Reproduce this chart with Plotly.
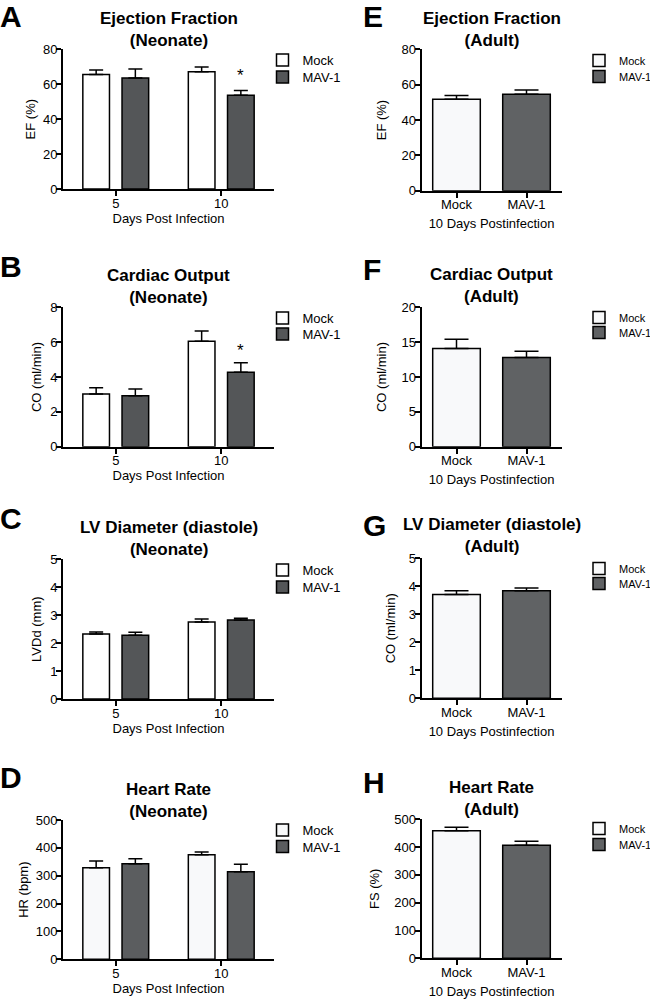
import plotly.graph_objects as go

# ---------------- data ----------------
days = ["5", "10"]
groups = ["Mock", "MAV-1"]

# Neonate panels (A-D): values at day 5 and day 10
ef_neo_mock = [65.5, 67.2]
ef_neo_mock_err = [2.6, 2.7]
ef_neo_mav = [63.6, 53.7]
ef_neo_mav_err = [5.1, 2.7]

co_neo_mock = [3.02, 6.05]
co_neo_mock_err = [0.37, 0.59]
co_neo_mav = [2.93, 4.27]
co_neo_mav_err = [0.38, 0.55]

lvdd_neo_mock = [2.33, 2.76]
lvdd_neo_mock_err = [0.07, 0.10]
lvdd_neo_mav = [2.28, 2.83]
lvdd_neo_mav_err = [0.11, 0.06]

hr_neo_mock = [329, 375]
hr_neo_mock_err = [24, 10]
hr_neo_mav = [343, 314]
hr_neo_mav_err = [18, 27]

# Adult panels (E-H): [Mock, MAV-1]
ef_adult = [51.7, 54.5]
ef_adult_err = [2.1, 2.5]
co_adult = [14.1, 12.8]
co_adult_err = [1.3, 0.9]
lvdd_adult = [3.71, 3.84]
lvdd_adult_err = [0.13, 0.10]
hr_adult = [459, 406.5]
hr_adult_err = [12, 14.5]

# significance stars (neonate, MAV-1 at day 10)
star_ef_y = 66.9
star_co_y = 5.69

# ---------------- layout helpers ----------------
W, H = 650, 1001
FONT = "Liberation Sans, Arial, Helvetica, sans-serif"


def px_x(p):
    return p / W


def px_y(p):
    return 1 - p / H


fig = go.Figure()

left_x = [63, 274]
right_x = [421.5, 561.5]

panels = [
    dict(letter="A", i=1, side="L", yp=(49.3, 189.0), ymax=80, dtick=20,
         title="Ejection Fraction<br>(Neonate)", ytitle="EF (%)", ysd=4,
         mock=ef_neo_mock, mock_err=ef_neo_mock_err, mav=ef_neo_mav, mav_err=ef_neo_mav_err,
         title_y=30, letter_y=17, leg_y=(60, 77), star=star_ef_y,
         mock_c="#ffffff", mav_c="#545658"),
    dict(letter="B", i=2, side="L", yp=(307.3, 446.7), ymax=8, dtick=2,
         title="Cardiac Output<br>(Neonate)", ytitle="CO (ml/min)", ysd=6,
         mock=co_neo_mock, mock_err=co_neo_mock_err, mav=co_neo_mav, mav_err=co_neo_mav_err,
         title_y=286, letter_y=266, leg_y=(318, 334), star=star_co_y,
         mock_c="#ffffff", mav_c="#545658"),
    dict(letter="C", i=3, side="L", yp=(559.3, 699.0), ymax=5, dtick=1,
         title="LV Diameter (diastole)<br>(Neonate)", ytitle="LVDd (mm)", ysd=6,
         mock=lvdd_neo_mock, mock_err=lvdd_neo_mock_err, mav=lvdd_neo_mav, mav_err=lvdd_neo_mav_err,
         title_y=538, letter_y=518, leg_y=(570, 587), star=None,
         mock_c="#ffffff", mav_c="#545658"),
    dict(letter="D", i=4, side="L", yp=(820.0, 959.3), ymax=500, dtick=100,
         title="Heart Rate<br>(Neonate)", ytitle="HR (bpm)", ysd=4,
         mock=hr_neo_mock, mock_err=hr_neo_mock_err, mav=hr_neo_mav, mav_err=hr_neo_mav_err,
         title_y=800, letter_y=777, leg_y=(830, 846.5), star=None,
         mock_c="#f8f9fa", mav_c="#5b5d5f"),
    dict(letter="E", i=5, side="R", yp=(49.3, 190.7), ymax=80, dtick=20,
         title="Ejection Fraction<br>(Adult)", ytitle="EF (%)", ysd=12,
         vals=ef_adult, errs=ef_adult_err,
         title_y=29, letter_y=17, leg_y=(60, 76),
         mock_c="#f8f9fa", mav_c="#606264"),
    dict(letter="F", i=6, side="R", yp=(307.3, 446.7), ymax=20, dtick=5,
         title="Cardiac Output<br>(Adult)", ytitle="CO (ml/min)", ysd=12,
         vals=co_adult, errs=co_adult_err,
         title_y=285, letter_y=270, leg_y=(317, 332),
         mock_c="#f8f9fa", mav_c="#606264"),
    dict(letter="G", i=7, side="R", yp=(558.3, 698.3), ymax=5, dtick=1,
         title="LV Diameter (diastole)<br>(Adult)", ytitle="CO (ml/min)", ysd=10,
         vals=lvdd_adult, errs=lvdd_adult_err,
         title_y=535, letter_y=525, leg_y=(568, 583),
         mock_c="#f8f9fa", mav_c="#606264"),
    dict(letter="H", i=8, side="R", yp=(819.3, 958.3), ymax=500, dtick=100,
         title="Heart Rate<br>(Adult)", ytitle="FS (%)", ysd=12,
         vals=hr_adult, errs=hr_adult_err,
         title_y=798, letter_y=782, leg_y=(828, 844),
         mock_c="#f8f9fa", mav_c="#606264"),
]

annotations = []
layout_axes = {}

for p in panels:
    i = p["i"]
    xa = "x" if i == 1 else f"x{i}"
    ya = "y" if i == 1 else f"y{i}"
    lg_names = [("legend" if (2 * i - 1) == 1 else f"legend{2 * i - 1}"), f"legend{2 * i}"]
    xdom = left_x if p["side"] == "L" else right_x
    ydom = [px_y(p["yp"][1]), px_y(p["yp"][0])]

    if p["side"] == "L":
        capw = 7
        fig.add_trace(go.Bar(
            x=days, y=p["mock"], name=groups[0], xaxis=xa, yaxis=ya, legend=lg_names[0],
            marker=dict(color=p["mock_c"], line=dict(color="black", width=1.5)),
            error_y=dict(type="data", array=p["mock_err"], arrayminus=[0, 0], symmetric=False,
                         color="black", thickness=1.5, width=capw),
        ))
        fig.add_trace(go.Bar(
            x=days, y=p["mav"], name=groups[1], xaxis=xa, yaxis=ya, legend=lg_names[1],
            marker=dict(color=p["mav_c"], line=dict(color="black", width=1.5)),
            error_y=dict(type="data", array=p["mav_err"], arrayminus=[0, 0], symmetric=False,
                         color="black", thickness=1.5, width=capw),
        ))
        xtitle = "Days Post Infection"
        xsd = 0
        if p["star"] is not None:
            annotations.append(dict(
                x=1, y=p["star"], xref=xa, yref=ya, text="*", showarrow=False,
                xshift=19.5, yshift=-3, yanchor="middle",
                font=dict(family=FONT, size=17, color="black")))
        leg_x = 262.5
        leg_font = 13
        leg_off = 15
    else:
        capw = 12
        for k, (g, c) in enumerate(zip(groups, [p["mock_c"], p["mav_c"]])):
            fig.add_trace(go.Bar(
                x=[g], y=[p["vals"][k]], name=g, xaxis=xa, yaxis=ya, legend=lg_names[k],
                offsetgroup=f"adult{i}", width=[0.68],
                marker=dict(color=c, line=dict(color="black", width=1.5)),
                error_y=dict(type="data", array=[p["errs"][k]], arrayminus=[0], symmetric=False,
                             color="black", thickness=1.5, width=capw),
            ))
        xtitle = "10 Days Postinfection"
        xsd = 8
        leg_x = 579
        leg_font = 11
        leg_off = 14

    layout_axes[("xaxis" if i == 1 else f"xaxis{i}")] = dict(
        domain=[px_x(xdom[0]), px_x(xdom[1])], anchor=ya, type="category",
        range=[-0.5, 1.5], showline=True, linecolor="black", linewidth=2,
        ticks="outside", ticklen=5, tickwidth=1.5, tickcolor="black",
        ticklabelstandoff=-4,
        showgrid=False, zeroline=False,
        tickfont=dict(family=FONT, size=13, color="black"),
        title=dict(text=xtitle, font=dict(family=FONT, size=13, color="black"), standoff=xsd),
        fixedrange=True,
    )
    layout_axes[("yaxis" if i == 1 else f"yaxis{i}")] = dict(
        domain=ydom, anchor=xa, range=[0, p["ymax"]], dtick=p["dtick"], tick0=0,
        showline=True, linecolor="black", linewidth=2,
        ticks="outside", ticklen=5, tickwidth=1.5, tickcolor="black",
        ticklabelstandoff=-4,
        showgrid=False, zeroline=False,
        tickfont=dict(family=FONT, size=13, color="black"),
        title=dict(text=p["ytitle"], font=dict(family=FONT, size=13, color="black"),
                   standoff=p["ysd"]),
        fixedrange=True,
    )
    for lg, ly in zip(lg_names, p["leg_y"]):
        layout_axes[lg] = dict(
            x=px_x(leg_x), y=px_y(ly - leg_off), xanchor="left", yanchor="top",
            font=dict(family=FONT, size=leg_font, color="black"),
            bgcolor="rgba(0,0,0,0)", borderwidth=0, tracegroupgap=0,
            itemclick=False, itemdoubleclick=False,
        )

    annotations.append(dict(
        x=px_x((xdom[0] + xdom[1]) / 2), y=px_y(p["title_y"]), xref="paper", yref="paper",
        text=f"<b>{p['title']}</b>", showarrow=False, xanchor="center", yanchor="middle",
        font=dict(family=FONT, size=17, color="black")))
    lx = 0 if p["side"] == "L" else 363
    annotations.append(dict(
        x=px_x(lx), y=px_y(p["letter_y"]), xref="paper", yref="paper",
        text=f"<b>{p['letter']}</b>", showarrow=False, xanchor="left", yanchor="middle",
        xshift=-2,
        font=dict(family=FONT, size=30, color="black")))

fig.update_layout(
    width=W, height=H, margin=dict(l=0, r=0, t=0, b=0, autoexpand=False),
    paper_bgcolor="white", plot_bgcolor="white",
    barmode="group", bargap=0.257, bargroupgap=0.32,
    showlegend=True, annotations=annotations,
    **layout_axes,
)

fig.write_html("out.html", config={"displayModeBar": False},
               post_script="document.body.style.margin='0';document.body.style.overflow='hidden';")
